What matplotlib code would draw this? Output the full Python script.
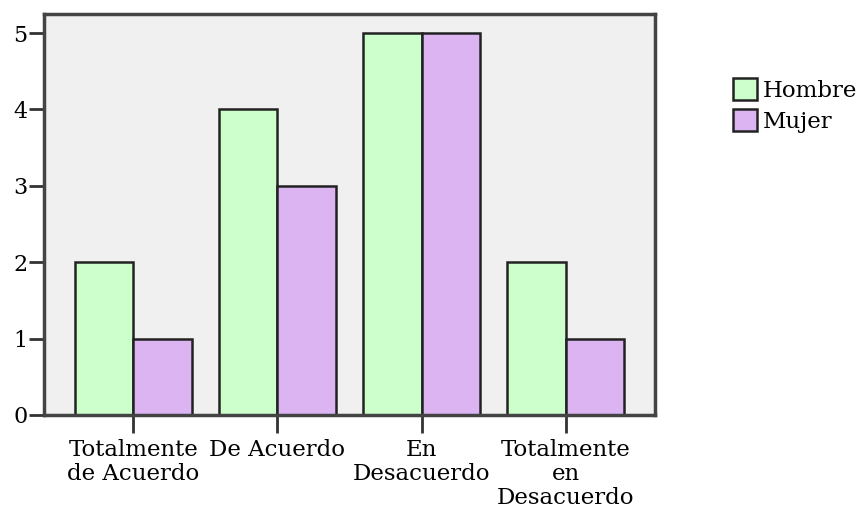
import matplotlib
matplotlib.use("Agg")
import matplotlib.pyplot as plt
import numpy as np

categories = ["Totalmente\nde Acuerdo", "De Acuerdo", "En\nDesacuerdo",
              "Totalmente\nen\nDesacuerdo"]
hombre = [2, 4, 5, 2]
mujer = [1, 3, 5, 1]
yticks = [0, 1, 2, 3, 4, 5]

plt.rcParams['font.family'] = ['DejaVu Serif']

fig = plt.figure(figsize=(8.59, 5.11), dpi=100)
ax = fig.add_axes([0.0512, 0.1879, 0.7113, 0.7847])
ax.set_facecolor('#f0f0f0')

x = np.arange(len(categories))
w = 0.405
ax.bar(x - w / 2, hombre, w, color='#ccffcc', edgecolor='#222222',
       linewidth=1.8, label='Hombre')
ax.bar(x + w / 2, mujer, w, color='#dcb4f2', edgecolor='#222222',
       linewidth=1.8, label='Mujer')

ax.set_xlim(-0.62, 3.62)
ax.set_ylim(0, 5.25)
ax.set_yticks(yticks)
ax.set_xticks(x)
ax.set_xticklabels(categories, fontsize=16.5, linespacing=1.12)
ax.tick_params(axis='y', length=11, width=2, color='#333333',
               labelsize=16, pad=1)
ax.tick_params(axis='x', length=13, width=2, color='#333333', pad=4)
for s in ax.spines.values():
    s.set_linewidth(2.5)
    s.set_color('#444444')

fig.legend(loc='upper left', bbox_to_anchor=(0.853, 0.848),
           frameon=False, fontsize=16.5, handlelength=1.05,
           handleheight=1.15, handletextpad=0.25, labelspacing=0.3,
           borderaxespad=0, borderpad=0)

fig.savefig('out.png', dpi=100)
